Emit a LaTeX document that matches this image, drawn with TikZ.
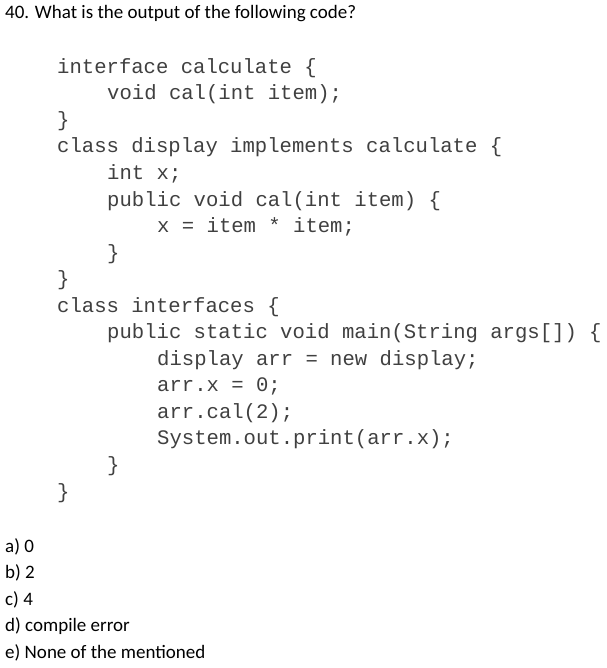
\documentclass[tikz,border=0pt]{standalone}
\usepackage{fontspec}
\setmainfont{Carlito}
\newfontfamily\codefont{Liberation Mono}
\begin{document}
\begin{tikzpicture}[x=1pt,y=-1pt,
  q/.style={anchor=west,inner sep=0pt,font=\fontsize{19}{22}\selectfont,text=black},
  cd/.style={anchor=west,inner sep=0pt,font=\codefont\fontsize{20.6}{24}\selectfont,text=black!75}]
\useasboundingbox[fill=white] (0,0) rectangle (606,668);
\node[q] (t) at (5,14) {40. What is the output of the following code?};
\node[cd] (c1) at (57,68) {interface calculate \{};
\node[cd] (c2) at (107,94) {void cal(int item);};
\node[cd] (c3) at (57,121) {\}};
\node[cd] (c4) at (57,147) {class display implements calculate \{};
\node[cd] (c5) at (107,174) {int x;};
\node[cd] (c6) at (107,201) {public void cal(int item) \{};
\node[cd] (c7) at (157,227) {x = item * item;};
\node[cd] (c8) at (107,254) {\}};
\node[cd] (c9) at (57,280) {\}};
\node[cd] (c10) at (57,307) {class interfaces \{};
\node[cd] (c11) at (107,333) {public static void main(String args[]) \{};
\node[cd] (c12) at (157,360) {display arr = new display;};
\node[cd] (c13) at (157,386) {arr.x = 0;};
\node[cd] (c14) at (157,413) {arr.cal(2);};
\node[cd] (c15) at (157,439) {System.out.print(arr.x);};
\node[cd] (c16) at (107,466) {\}};
\node[cd] (c17) at (57,493) {\}};
\node[q] (a) at (5,547) {a) 0};
\node[q] (b) at (5,573) {b) 2};
\node[q] (c) at (5,600) {c) 4};
\node[q] (d) at (5,626) {d) compile error};
\node[q] (e) at (5,653) {e) None of the mentioned};
\end{tikzpicture}
\end{document}
